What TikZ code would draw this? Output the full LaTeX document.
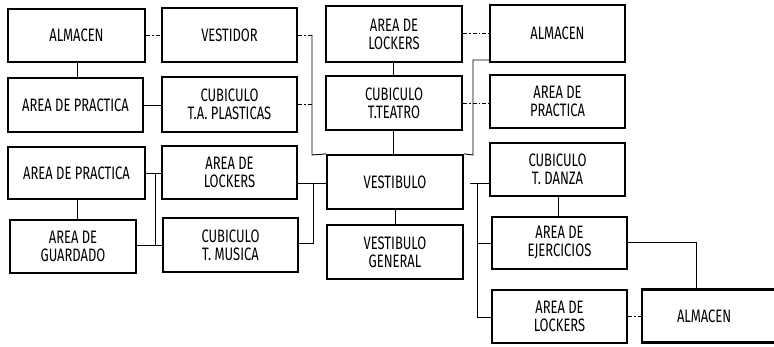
\documentclass[tikz,border=0pt]{standalone}
\usepackage{fontspec}
\newfontfamily\handfont[FakeStretch=0.72]{Fira Sans}
\newcommand{\roombox}[6]{\node[room,minimum width={#4-#2},minimum height={#5-#3}] (#1) at ({(#2+#4)/2},{(#3+#5)/2}) {#6};}
\begin{document}
\begin{tikzpicture}[x=1pt,y=-1pt,
  room/.style={draw,line width=2.2pt,inner sep=0pt,align=center,
    font=\handfont\fontsize{18}{18}\selectfont},
  link/.style={line width=0.9pt},
  dlink/.style={line width=0.9pt,dash pattern=on 4pt off 2pt on 1.5pt off 2pt}]
\useasboundingbox (0,0) rectangle (774,347);
\begin{scope}
\clip (0,0) rectangle (774,347);
\roombox{a1}{8}{9}{145}{62}{ALMACEN}
\roombox{a2}{8}{78}{143}{132}{AREA DE PRACTICA}
\roombox{a3}{8}{147}{145}{199}{AREA DE PRACTICA}
\roombox{a4}{10}{220}{136}{273}{AREA DE\\GUARDADO}
\roombox{b1}{162}{8}{297}{62}{VESTIDOR}
\roombox{b2}{162}{77}{297}{132}{CUBICULO\\T.A. PLASTICAS}
\roombox{b3}{162}{146}{297}{199}{AREA DE\\LOCKERS}
\roombox{b4}{163}{218}{298}{272}{CUBICULO\\T. MUSICA}
\roombox{c1}{326}{6}{462}{62}{AREA DE\\LOCKERS}
\roombox{c2}{326}{76}{462}{130}{CUBICULO\\T.TEATRO}
\roombox{c3}{327}{155}{463}{209}{VESTIBULO}
\roombox{c4}{327}{225}{463}{279}{VESTIBULO\\GENERAL}
\roombox{d1}{490}{5}{625}{62}{ALMACEN}
\roombox{d2}{490}{75}{625}{128}{AREA DE\\PRACTICA}
\roombox{d3}{490}{143}{625}{196}{CUBICULO\\T. DANZA}
\roombox{d4}{492}{217}{627}{269}{AREA DE\\EJERCICIOS}
\roombox{d5}{492}{290}{627}{343}{AREA DE\\LOCKERS}
\node[room,minimum width=134,minimum height=53,text width=128,align=left] (e1) at (709,316) {\hspace*{32pt}ALMACEN};
\end{scope}
% coordinates for junctions
\coordinate (jl) at (312,35);
\coordinate (jl2) at (312,155);
\coordinate (jr) at (473,60);
\coordinate (jr2) at (473,155);
\coordinate (k1) at (155,173);
\coordinate (k2) at (155,245);
\coordinate (m1) at (313,183);
\coordinate (m2) at (313,243);
\coordinate (n1) at (477,183);
\coordinate (n2) at (477,243);
\coordinate (n3) at (477,317);
\coordinate (p1) at (696,242);
% column 1
\draw[link] (a1.south -| 77,0) -- (a2.north -| 77,0);
\draw[link] (a3.south -| 77,0) -- (a4.north -| 77,0);
\draw[dlink] (a1.east |- 0,35) -- (b1.west |- 0,35);
\draw[link] (a2.east |- 0,105) -- (b2.west |- 0,105);
% left bracket col 1-2
\draw[link] (a3.east |- k1) -- (k1) -- (k2) -- (a4.east |- k2);
\draw[link] (k1) -- (b3.west |- k1);
\draw[link] (k2) -- (b4.west |- k2);
% col2 to col3 upper
\draw[dlink] (b1.east |- jl) -- (jl);
\draw[link] (jl) -- (jl2) -- (c3.north west);
\draw[dlink] (b2.east |- 0,104) -- (312,104);
% col2 to vestibulo
\draw[link] (b3.east |- m1) -- (c3.west |- m1);
\draw[link] (m1) -- (m2) -- (b4.east |- m2);
% col3 verticals
\draw[link] (c1.south -| 393,0) -- (c2.north -| 393,0);
\draw[link] (c2.south -| 393,0) -- (c3.north -| 393,0);
\draw[link] (c3.south -| 395,0) -- (c4.north -| 395,0);
% col3 to col4
\draw[dlink] (c1.east |- 0,33) -- (d1.west |- 0,33);
\draw[dlink] (c2.east |- 0,103) -- (d2.west |- 0,103);
\draw[link] (c3.north east) -- (jr2) -- (jr) -- (d1.south west |- jr);
% vestibulo to right
\draw[link] (470,183) -- (d3.west |- n1);
\draw[link] (n1) -- (n3) -- (d5.west |- n3);
\draw[link] (n2) -- (d4.west |- n2);
\draw[link] (d3.south -| 558,0) -- (d4.north -| 558,0);
\draw[link] (d4.east |- p1) -- (p1) -- (e1.north -| p1);
\draw[dlink] (d5.east |- 0,316) -- (e1.west |- 0,316);
\end{tikzpicture}
\end{document}
